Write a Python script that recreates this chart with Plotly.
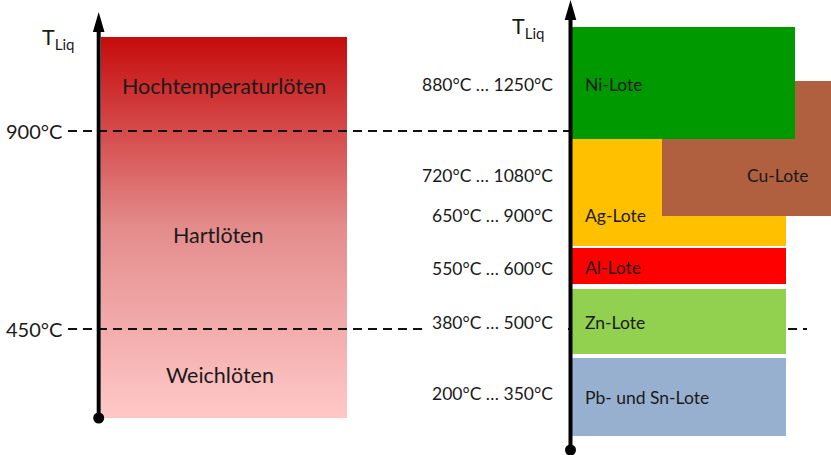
import plotly.graph_objects as go

# --- data ---------------------------------------------------------------
process_names = ["Hochtemperaturlöten", "Hartlöten", "Weichlöten"]
process_limits = [900, 450]            # °C, boundaries between the processes

solder_names = ["Ni-Lote", "Cu-Lote", "Ag-Lote", "Al-Lote", "Zn-Lote", "Pb- und Sn-Lote"]
t_liq_min = [880, 720, 650, 550, 380, 200]
t_liq_max = [1250, 1080, 900, 600, 500, 350]
solder_colors = ["#009900", "#b0603f", "#ffc000", "#ff0000", "#92d050", "#98b0cf"]

# --- schematic layout (diagram units, y grows downward) ------------------
W, H = 831, 455
FONT = "Lato"
TXT = "#1a1a1a"
BIG, MID, SMALL = 21.5, 20, 17.5

# left column: process bar
proc_box = dict(x0=101, x1=347, y0=37, y1=418)
proc_label_y = [86, 235, 375]
proc_label_x = [224, 218, 220]
limit_y = [131, 329]
limit_x1 = [570, 807]

# right column: solder boxes (x0, x1, y0, y1) and label anchors
box_x0 = [572, 662, 572, 572, 572, 572]
box_x1 = [795, 831, 786, 786, 786, 786]
box_y0 = [27, 81, 139, 248, 289, 358]
box_y1 = [139, 216, 246, 284, 354, 436]
box_label_x = [583, 745, 583, 583, 583, 583]
box_label_y = [84, 175, 215, 267, 322, 397]
range_label_y = [84, 175, 215, 268, 322, 393]
draw_order = [2, 1, 0, 3, 4, 5]       # Cu overlaps Ag, Ni overlaps Cu

fig = go.Figure()

# gradient-filled process bar (dark red at the top, pale pink at the bottom)
px = [proc_box["x0"], proc_box["x1"], proc_box["x1"], proc_box["x0"], proc_box["x0"]]
py = [proc_box["y0"], proc_box["y0"], proc_box["y1"], proc_box["y1"], proc_box["y0"]]
fig.add_trace(go.Scatter(
    x=px, y=py, mode="lines", fill="toself", line=dict(width=0),
    fillgradient=dict(type="vertical",
                      colorscale=[[0, "#ffc8c8"], [0.5, "#e48c8c"], [1, "#c60b0b"]]),
    hoverinfo="skip", showlegend=False))

shapes = []
annotations = []

# dashed temperature limits
for t, y, x1 in zip(process_limits, limit_y, limit_x1):
    shapes.append(dict(type="line", x0=68, x1=x1, y0=y, y1=y, layer="above",
                       line=dict(color="#111111", width=2, dash="9px,6px")))
    annotations.append(dict(x=64, y=y, text=f"{t}°C", xanchor="right", yanchor="middle",
                            showarrow=False, font=dict(family=FONT, size=MID, color=TXT)))

# white text field behind the 380–500 °C range label
shapes.append(dict(type="rect", x0=424, x1=568, y0=305, y1=345, fillcolor="white",
                   line=dict(width=0), layer="above"))

# solder boxes
for i in draw_order:
    shapes.append(dict(type="rect", x0=box_x0[i], x1=box_x1[i], y0=box_y0[i], y1=box_y1[i],
                       fillcolor=solder_colors[i], line=dict(width=0), layer="above"))

# axes with arrow heads and base dots
for ax_x, top, bottom in [(98.7, 24, 418), (570.5, 12, 450)]:
    shapes.append(dict(type="line", x0=ax_x, x1=ax_x, y0=top, y1=bottom, layer="above",
                       line=dict(color="black", width=4)))
    shapes.append(dict(type="path", layer="above", fillcolor="black", line=dict(width=0),
                       path=f"M {ax_x-5.8} {top+8} L {ax_x} {top-12} L {ax_x+5.8} {top+8} Z"))
    shapes.append(dict(type="circle", layer="above", fillcolor="black", line=dict(width=0),
                       x0=ax_x - 5.5, x1=ax_x + 5.5, y0=bottom - 5.5, y1=bottom + 5.5))

# axis titles
for x, y in [(58, 38), (528, 27)]:
    annotations.append(dict(x=x, y=y, text="T<sub>Liq</sub>", xanchor="center", yanchor="middle",
                            showarrow=False, font=dict(family=FONT, size=BIG, color=TXT)))

# process labels
for name, x, y in zip(process_names, proc_label_x, proc_label_y):
    annotations.append(dict(x=x, y=y, text=name, xanchor="center", yanchor="middle",
                            showarrow=False, font=dict(family=FONT, size=BIG, color=TXT)))

# solder labels and temperature ranges
for i, name in enumerate(solder_names):
    annotations.append(dict(x=box_label_x[i], y=box_label_y[i], text=name,
                            xanchor="left", yanchor="middle", showarrow=False,
                            font=dict(family=FONT, size=SMALL, color=TXT)))
    annotations.append(dict(x=555, y=range_label_y[i],
                            text=f"{t_liq_min[i]}°C … {t_liq_max[i]}°C",
                            xanchor="right", yanchor="middle", showarrow=False,
                            font=dict(family=FONT, size=SMALL, color=TXT)))

fig.update_layout(
    width=W, height=H, margin=dict(l=0, r=0, t=0, b=0),
    paper_bgcolor="white", plot_bgcolor="white",
    xaxis=dict(range=[0, W], visible=False, fixedrange=True),
    yaxis=dict(range=[H, 0], visible=False, fixedrange=True),
    shapes=shapes, annotations=annotations, showlegend=False,
)

fig.write_html("out.html")
